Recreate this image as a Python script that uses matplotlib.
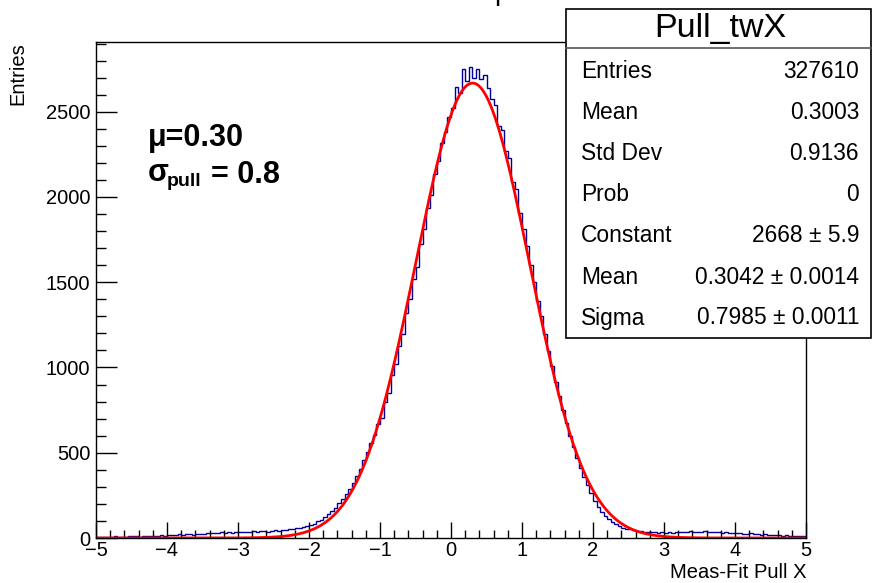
import numpy as np
import matplotlib
matplotlib.use("Agg")
import matplotlib.pyplot as plt
from matplotlib.patches import Rectangle
from matplotlib.lines import Line2D
from matplotlib.ticker import MultipleLocator

plt.rcParams["font.family"] = ["Liberation Sans", "DejaVu Sans"]

# histogram contents (200 bins over [-5, 5])
x_min, x_max = -5.0, 5.0
counts = [
    5, 7, 4, 8, 6, 9, 5, 8, 7, 10,
    9, 12, 8, 11, 13, 10, 14, 12, 15, 13,
    17, 15, 19, 22, 18, 21, 24, 20, 23, 26,
    25, 29, 27, 31, 28, 33, 30, 35, 32, 34,
    37, 33, 38, 36, 41, 35, 40, 43, 38, 42,
    45, 43, 48, 47, 52, 51, 56, 57, 63, 68,
    78, 84, 98, 108, 126, 138, 160, 177, 203, 226,
    256, 290, 322, 365, 402, 455, 503, 556, 606, 668,
    705, 795, 850, 955, 1020, 1125, 1195, 1320, 1400, 1520,
    1590, 1725, 1815, 1935, 2010, 2135, 2210, 2315, 2380, 2470,
    2520, 2645, 2610, 2750, 2680, 2762, 2700, 2748, 2690, 2715,
    2640, 2575, 2540, 2415, 2395, 2270, 2230, 2090, 2045, 1905,
    1810, 1712, 1600, 1502, 1390, 1300, 1195, 1098, 1010, 915,
    830, 748, 676, 600, 535, 470, 412, 356, 308, 262,
    218, 184, 155, 130, 110, 94, 80, 70, 60, 53,
    50, 46, 42, 40, 36, 38, 34, 35, 31, 33,
    32, 36, 30, 38, 34, 37, 33, 39, 35, 38,
    36, 40, 34, 37, 33, 35, 31, 34, 30, 29,
    28, 31, 26, 24, 27, 22, 25, 20, 21, 18,
    19, 16, 17, 14, 15, 12, 13, 10, 11, 9,
]

# gaussian fit parameters shown in the stat box
fit_const = 2668
fit_mean = 0.3042
fit_sigma = 0.7985

stat_title = "Pull_twX"
stat_names = ["Entries", "Mean", "Std Dev", "Prob", "Constant", "Mean", "Sigma"]
stat_values = ["327610", "0.3003", "0.9136", "0", "2668 \u00b1 5.9",
               "0.3042 \u00b1 0.0014", "0.7985 \u00b1 0.0011"]

W, H = 872, 583


def fx(px):
    return px / W


def fy(py):
    return 1 - py / H


fig = plt.figure(figsize=(W / 100, H / 100), dpi=100)
ax = fig.add_axes([fx(96), fy(538), (806 - 96) / W, (538 - 42) / H])

edges = np.linspace(x_min, x_max, len(counts) + 1)
ax.stairs(counts, edges, color="#000099", lw=1.0)

xs = np.linspace(x_min, x_max, 1000)
ax.plot(xs, fit_const * np.exp(-0.5 * ((xs - fit_mean) / fit_sigma) ** 2),
        color="red", lw=2.0)

ax.set_xlim(x_min, x_max)
ax.set_ylim(0, 2909)
ax.xaxis.set_major_locator(MultipleLocator(1))
ax.xaxis.set_minor_locator(MultipleLocator(0.2))
ax.yaxis.set_major_locator(MultipleLocator(500))
ax.yaxis.set_minor_locator(MultipleLocator(100))
ax.tick_params(axis="x", which="major", direction="in", length=11.5, width=1, pad=2, labelsize=14.5)
ax.tick_params(axis="x", which="minor", direction="in", length=6, width=1)
ax.tick_params(axis="y", which="major", direction="in", length=15, width=1, pad=4, labelsize=14.5)
ax.tick_params(axis="y", which="minor", direction="in", length=7.5, width=1)
for s in ax.spines.values():
    s.set_linewidth(1)

fig.text(fx(18), fy(42), "Entries", rotation=90, ha="center", va="top", fontsize=14.5)
fig.text(fx(806), fy(572), "Meas-Fit Pull X", ha="right", va="center", fontsize=14.5)

# what is left of the title, cut off at the top
fig.text(fx(502), 1.0, "p", ha="center", va="baseline", fontsize=20)

# annotation
fig.text(fx(148), fy(138), "\u03bc=0.30", ha="left", va="center", fontsize=22, fontweight="bold")
fig.text(fx(148), fy(173), "\u03c3", ha="left", va="center", fontsize=22, fontweight="bold")
fig.text(fx(167), fy(181), "pull", ha="left", va="center", fontsize=14, fontweight="bold")
fig.text(fx(211), fy(175), "= 0.8", ha="left", va="center", fontsize=22, fontweight="bold")

# stat box
box_l, box_t, box_b = 566, 9, 338
fig.add_artist(Rectangle((fx(box_l), fy(box_b)), fx(871) - fx(box_l), fy(box_t) - fy(box_b),
                         transform=fig.transFigure, facecolor="white", edgecolor="black", lw=1.2))
fig.add_artist(Line2D([fx(box_l), fx(871)], [fy(48), fy(48)], transform=fig.transFigure,
                      color="#555555", lw=1.2))
fig.text(fx(720), fy(29), stat_title, ha="center", va="center", fontsize=24.5)
for i, (name, val) in enumerate(zip(stat_names, stat_values)):
    y = 72 + i * 41
    fig.text(fx(581), fy(y), name, ha="left", va="center", fontsize=16.4)
    fig.text(fx(859), fy(y), val, ha="right", va="center", fontsize=16.4)

fig.savefig("out.png", dpi=100)
